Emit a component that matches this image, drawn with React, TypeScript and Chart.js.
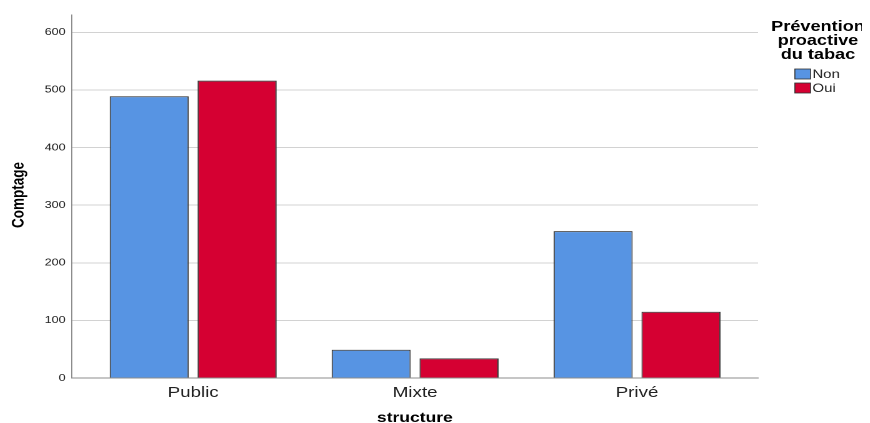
import React, { useEffect, useRef } from "react";
import { Chart, registerables } from "chart.js";

Chart.register(...registerables);

const categories = ["Public", "Mixte", "Privé"];
const nonValues = [489, 49, 255];
const ouiValues = [516, 34, 115];
const seriesLabels = ["Non", "Oui"];
const seriesColors = ["#5794E3", "#D50032"];
const yTickValues = [0, 100, 200, 300, 400, 500, 600];
const legendTitle = ["Prévention", "proactive", "du tabac"];
const yTitle = "Comptage";
const xTitle = "structure";

const FONT = "'Liberation Sans', Arial, sans-serif";

const overlayPlugin = {
  id: "overlayText",
  afterDraw(chart: any) {
    const ctx = chart.ctx as CanvasRenderingContext2D;
    const area = chart.chartArea;
    ctx.save();
    ctx.fillStyle = "#000";
    ctx.font = `bold 13.5px ${FONT}`;
    ctx.textAlign = "center";
    ctx.textBaseline = "middle";
    ctx.translate(9, 187);
    ctx.rotate(-Math.PI / 2);
    ctx.fillText(yTitle, 0, 0);
    ctx.restore();

    ctx.save();
    ctx.fillStyle = "#000";
    ctx.font = `bold 14px ${FONT}`;
    ctx.textAlign = "center";
    ctx.textBaseline = "alphabetic";
    ctx.fillText(xTitle, (area.left + area.right) / 2, 414);

    ctx.font = `bold 14.5px ${FONT}`;
    ctx.textBaseline = "middle";
    legendTitle.forEach((line, i) => {
      ctx.fillText(line, 648, 19 + i * 14);
    });

    ctx.textAlign = "left";
    ctx.font = `12px ${FONT}`;
    seriesLabels.forEach((label, i) => {
      const cy = 66 + i * 14;
      ctx.fillStyle = seriesColors[i];
      ctx.fillRect(629.5, cy - 5, 12.5, 10);
      ctx.strokeStyle = "#333";
      ctx.lineWidth = 0.8;
      ctx.strokeRect(629.5, cy - 5, 12.5, 10);
      ctx.fillStyle = "#222";
      ctx.fillText(label, 643.5, cy + 0.5);
    });
    ctx.restore();
  },
};

export default function App() {
  const canvasRef = useRef<HTMLCanvasElement | null>(null);

  useEffect(() => {
    document.documentElement.style.overflow = "hidden";
    const canvas = canvasRef.current;
    if (!canvas) return;
    const chart = new Chart(canvas, {
      type: "bar",
      data: {
        datasets: [
          {
            label: seriesLabels[0],
            data: categories.map((_, i) => ({ x: i, y: nonValues[i] })),
            backgroundColor: seriesColors[0],
            borderColor: "#3a3a3a",
            borderWidth: 1,
            categoryPercentage: 0.792,
            barPercentage: 0.9,
          },
          {
            label: seriesLabels[1],
            data: categories.map((_, i) => ({ x: i, y: ouiValues[i] })),
            backgroundColor: seriesColors[1],
            borderColor: "#3a3a3a",
            borderWidth: 1,
            categoryPercentage: 0.792,
            barPercentage: 0.9,
          },
        ],
      },
      options: {
        animation: false,
        responsive: true,
        maintainAspectRatio: false,
        devicePixelRatio: 2,
        layout: { padding: { top: 7, right: 83, left: 0, bottom: 0 } },
        plugins: {
          legend: { display: false },
          tooltip: { enabled: false },
        },
        scales: {
          x: {
            type: "linear",
            offset: false,
            min: -0.547,
            max: 2.545,
            afterBuildTicks: (scale: any) => {
              scale.ticks = categories.map((_, i) => ({ value: i }));
            },
            afterFit: (scale: any) => {
              scale.height = 45;
              scale.paddingLeft = 0;
              scale.paddingRight = 0;
            },
            grid: { display: false, drawTicks: false, offset: false },
            border: { display: true, color: "#8c8c8c", width: 1 },
            ticks: {
              padding: 6,
              color: "#222",
              font: { family: FONT, size: 15 },
              callback: (v: any) => categories[v as number] ?? "",
              maxRotation: 0,
              autoSkip: false,
            },
          },
          y: {
            type: "linear",
            min: 0,
            max: 630,
            afterBuildTicks: (scale: any) => {
              scale.ticks = yTickValues.map((v) => ({ value: v }));
            },
            afterFit: (scale: any) => {
              scale.width = 51;
              scale.paddingTop = 0;
              scale.paddingBottom = 0;
            },
            grid: { color: "#d2d2d2", lineWidth: 1, drawTicks: false },
            border: { display: true, color: "#8c8c8c", width: 1 },
            ticks: {
              padding: 5,
              color: "#222",
              font: { family: FONT, size: 10 },
            },
          },
        },
      },
      plugins: [overlayPlugin],
    } as any);
    return () => chart.destroy();
  }, []);

  return (
    <div
      style={{
        position: "fixed",
        left: 8,
        top: 8,
        width: 683,
        height: 415,
        transform: "scaleX(1.25)",
        transformOrigin: "0 0",
      }}
    >
      <canvas ref={canvasRef} />
    </div>
  );
}
